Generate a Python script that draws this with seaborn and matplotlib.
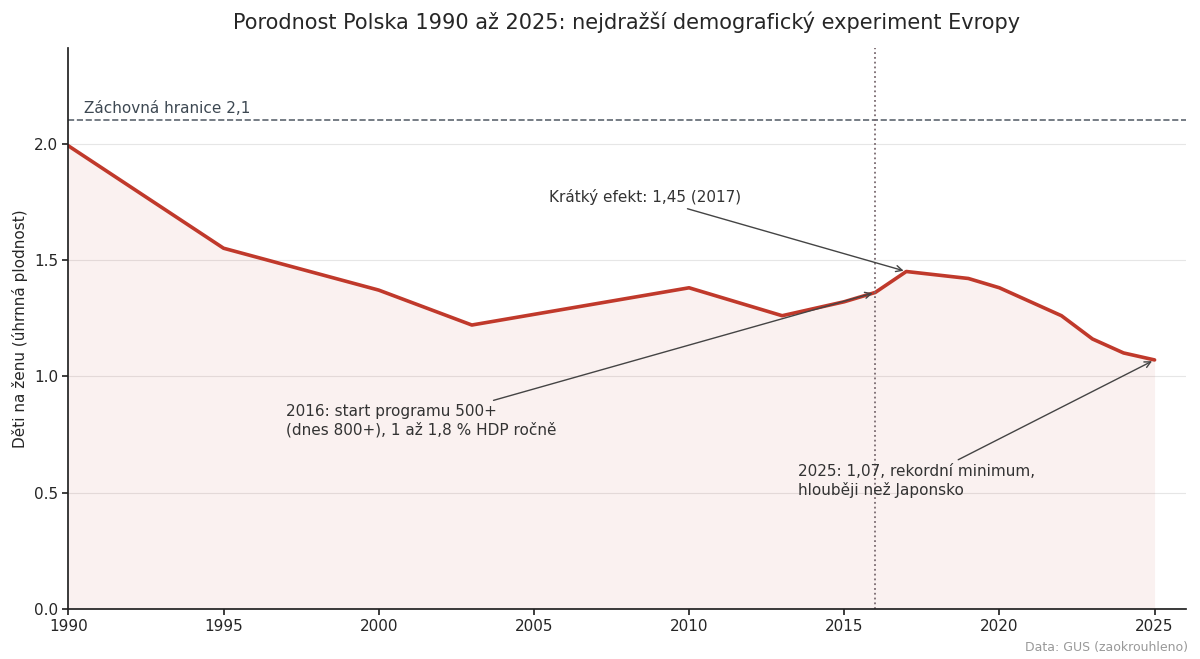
import matplotlib
matplotlib.use("Agg")
import matplotlib.pyplot as plt
import seaborn as sns
import pandas as pd

years = [1990, 1995, 2000, 2003, 2010, 2013, 2015, 2016, 2017, 2019, 2020, 2022, 2023, 2024, 2025]
tfr = [1.99, 1.55, 1.37, 1.22, 1.38, 1.26, 1.32, 1.36, 1.45, 1.42, 1.38, 1.26, 1.16, 1.10, 1.07]
df = pd.DataFrame({"rok": years, "tfr": tfr})

sns.set_theme(style="white")
plt.rcParams['font.family'] = ['DejaVu Sans']
fig, ax = plt.subplots(figsize=(12, 6.59), dpi=100)
fig.subplots_adjust(left=0.057, right=0.988, top=0.927, bottom=0.076)

red = "#c0392b"
ax.fill_between(df["rok"], df["tfr"], color=red, alpha=0.07, lw=0)
sns.lineplot(data=df, x="rok", y="tfr", ax=ax, color=red, lw=2.6)
ax.axhline(2.1, color="#5d6670", ls="--", lw=1.2)
ax.text(1990.5, 2.13, "Záchovná hranice 2,1", color="#3d4852", fontsize=11)
ax.axvline(2016, color="#7a6a70", ls=":", lw=1.3)

ap = dict(arrowstyle="->", color="#444444", lw=1)
ax.annotate("Krátký efekt: 1,45 (2017)", xy=(2017, 1.45), xytext=(2005.5, 1.75),
            fontsize=11, color="#333333", arrowprops=ap)
ax.annotate("2016: start programu 500+\n(dnes 800+), 1 až 1,8 % HDP ročně", xy=(2016, 1.36),
            xytext=(1997, 0.75), fontsize=11, color="#333333", arrowprops=ap)
ax.annotate("2025: 1,07, rekordní minimum,\nhlouběji než Japonsko", xy=(2025, 1.07),
            xytext=(2013.5, 0.49), fontsize=11, color="#333333", arrowprops=ap)

ax.set_xlim(1990, 2026)
ax.set_ylim(0, 2.41)
ax.set_yticks([0, 0.5, 1.0, 1.5, 2.0])
ax.set_xticks(range(1990, 2026, 5))
ax.grid(axis="y", color="#e6e6e6", lw=0.8)
ax.set_xlabel("")
ax.set_ylabel("Děti na ženu (úhrnná plodnost)", fontsize=11)
ax.tick_params(axis="both", labelsize=11, length=4, bottom=True, left=True)
for s in ["top", "right"]:
    ax.spines[s].set_visible(False)
for s in ["left", "bottom"]:
    ax.spines[s].set_color("#222222")
ax.set_title("Porodnost Polska 1990 až 2025: nejdražší demografický experiment Evropy", fontsize=15, pad=14)
fig.text(0.99, 0.012, "Data: GUS (zaokrouhleno)", ha="right", fontsize=9, color="#999999")
fig.savefig("out.png", dpi=100)
